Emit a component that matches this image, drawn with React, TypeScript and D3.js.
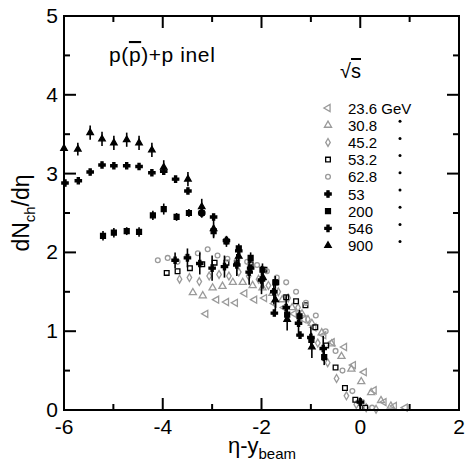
import React from "react";
import * as d3 from "d3";

const xDomain = [-6, 2];
const yDomain = [0, 5];
const xMajorTicks = [-6, -4, -2, 0, 2];
const yMajorTicks = [0, 1, 2, 3, 4, 5];

const legendLabels = ["23.6 GeV", "30.8", "45.2", "53.2", "62.8", "53", "200", "546", "900"];

const x236 = [-3.13, -2.91, -2.71, -2.53, -2.34, -2.14, -1.94, -1.74, -1.54, -1.34, -1.14, -0.94, -0.74, -0.57, -0.32, -0.14, 0.08, 0.28, 0.48, 0.69, 0.91];
const y236 = [1.22, 1.40, 1.37, 1.36, 1.48, 1.40, 1.42, 1.35, 1.30, 1.22, 1.15, 1.05, 0.95, 0.86, 0.80, 0.57, 0.48, 0.25, 0.10, 0.05, 0.03];

const x308 = [-3.39, -3.19, -2.99, -2.79, -2.58, -2.38, -2.18, -1.98, -1.78, -1.58, -1.38, -1.18, -0.98, -0.78, -0.58, -0.38, -0.18, 0.02, 0.22, 0.42, 0.62];
const y308 = [1.49, 1.45, 1.55, 1.57, 1.62, 1.62, 1.58, 1.55, 1.48, 1.40, 1.30, 1.22, 1.10, 0.98, 0.84, 0.68, 0.52, 0.36, 0.22, 0.12, 0.05];

const x452 = [-3.66, -3.46, -3.26, -3.06, -2.86, -2.66, -2.46, -2.26, -2.06, -1.86, -1.66, -1.46, -1.26, -1.06, -0.86, -0.66, -0.48, -0.28, -0.08, 0.12, 0.32];
const y452 = [1.66, 1.68, 1.63, 1.70, 1.72, 1.70, 1.75, 1.70, 1.66, 1.58, 1.50, 1.42, 1.30, 1.15, 0.85, 0.60, 0.40, 0.18, 0.07, 0.03, 0.01];

const x532 = [-3.92, -3.70, -3.45, -3.20, -2.95, -2.71, -2.50, -2.22, -1.94, -1.70, -1.50, -1.30, -1.11, -0.91, -0.69, -0.50, -0.31, -0.10, 0.10];
const y532 = [1.74, 1.76, 1.80, 1.85, 1.87, 1.87, 1.87, 1.85, 1.78, 1.62, 1.43, 1.38, 1.33, 1.05, 0.82, 0.54, 0.28, 0.13, 0.03];

const x628 = [-4.10, -3.90, -3.70, -3.50, -3.29, -3.09, -2.89, -2.69, -2.49, -2.29, -2.09, -1.89, -1.69, -1.50, -1.30, -1.10, -0.90, -0.70, -0.50, -0.36, -0.16, 0.04, 0.24];
const y628 = [1.90, 1.93, 1.88, 1.95, 1.99, 2.04, 1.96, 1.92, 1.90, 1.88, 1.84, 1.76, 1.68, 1.62, 1.50, 1.36, 1.20, 1.00, 0.75, 0.50, 0.24, 0.10, 0.03];

const x53 = [-3.75, -3.50, -3.25, -3.00, -2.75, -2.50, -2.25, -2.00, -1.75, -1.50, -1.25, -1.00, -0.75, 0.00];
const y53 = [1.90, 1.93, 1.86, 1.80, 1.82, 1.84, 1.75, 1.65, 1.50, 1.30, 1.10, 0.92, 0.78, 0.10];
const e53 = [0.10, 0.12, 0.14, 0.16, 0.14, 0.14, 0.16, 0.18, 0.16, 0.16, 0.14, 0.14, 0.16, 0.06];

const x200 = [-5.21, -4.99, -4.73, -4.48, -4.20, -3.98, -3.72, -3.47, -3.21, -2.97, -2.71, -2.46, -2.22, -1.98, -1.72, -1.48, -1.23, -0.99, -0.73];
const y200 = [2.21, 2.25, 2.27, 2.26, 2.47, 2.55, 2.45, 2.50, 2.50, 2.27, 2.14, 2.05, 1.93, 1.78, 1.62, 1.21, 1.19, 0.89, 0.67];
const e200 = [0.06, 0.06, 0.05, 0.06, 0.06, 0.07, 0.05, 0.05, 0.06, 0.07, 0.07, 0.06, 0.07, 0.08, 0.08, 0.08, 0.08, 0.09, 0.10];

const x546 = [-5.98, -5.71, -5.47, -5.23, -4.99, -4.73, -4.48, -4.22, -3.98, -3.74, -3.49, -3.21, -2.97, -2.71, -2.46, -2.22, -1.74, -1.22];
const y546 = [2.88, 2.91, 3.02, 3.11, 3.10, 3.10, 3.09, 3.01, 3.03, 2.93, 2.78, 2.50, 2.45, 2.15, 2.02, 1.80, 1.23, 0.95];

const x900 = [-6.00, -5.72, -5.47, -5.23, -4.99, -4.73, -4.48, -4.22, -3.98, -3.49, -3.21, -2.97, -2.46, -1.97, -1.72, -1.48, -0.98];
const y900 = [3.32, 3.31, 3.52, 3.44, 3.39, 3.43, 3.39, 3.30, 3.08, 2.93, 2.58, 2.30, 1.95, 1.68, 1.40, 1.15, 0.80];
const e900 = [0.08, 0.08, 0.09, 0.09, 0.09, 0.09, 0.09, 0.09, 0.09, 0.09, 0.10, 0.12, 0.12, 0.14, 0.14, 0.14, 0.14];

const GREY = "#9a9a9a";

type Sym = "ltri" | "tri" | "diamond" | "square" | "circle" | "cross";

interface Series {
  xs: number[];
  ys: number[];
  errs?: number[];
  sym: Sym;
  filled: boolean;
  color: string;
}

const seriesList: Series[] = [
  { xs: x236, ys: y236, sym: "ltri", filled: false, color: GREY },
  { xs: x308, ys: y308, sym: "tri", filled: false, color: GREY },
  { xs: x452, ys: y452, sym: "diamond", filled: false, color: GREY },
  { xs: x532, ys: y532, sym: "square", filled: false, color: "#000" },
  { xs: x628, ys: y628, sym: "circle", filled: false, color: GREY },
  { xs: x53, ys: y53, errs: e53, sym: "cross", filled: true, color: "#000" },
  { xs: x200, ys: y200, errs: e200, sym: "square", filled: true, color: "#000" },
  { xs: x546, ys: y546, sym: "cross", filled: true, color: "#000" },
  { xs: x900, ys: y900, errs: e900, sym: "tri", filled: true, color: "#000" },
];

const symPath = (s: Sym, filled: boolean): string => {
  const gen = d3.symbol();
  switch (s) {
    case "ltri":
    case "tri":
      return gen.type(d3.symbolTriangle).size(filled ? 18 : 22)() as string;
    case "diamond":
      return gen.type(d3.symbolDiamond).size(18)() as string;
    case "square":
      return gen.type(d3.symbolSquare).size(filled ? 24 : 22)() as string;
    case "circle":
      return gen.type(d3.symbolCircle).size(18)() as string;
    case "cross":
      return gen.type(d3.symbolCross).size(22)() as string;
  }
};

const Marker = ({ sym, filled, color, cx, cy }: { sym: Sym; filled: boolean; color: string; cx: number; cy: number }) => (
  <path
    d={symPath(sym, filled)}
    transform={`translate(${cx},${cy})${sym === "ltri" ? " rotate(-90)" : ""}`}
    fill={filled ? color : "#fff"}
    fillOpacity={filled ? 1 : 0}
    stroke={color}
    strokeWidth={1.3}
  />
);

export default function App() {
  const W = 466;
  const H = 462;
  const x = d3.scaleLinear().domain(xDomain).range([64, 459]);
  const y = d3.scaleLinear().domain(yDomain).range([410, 16]);
  const [x0, x1] = x.range();
  const [y0, y1] = y.range();
  const xMinor = d3.range(xDomain[0], xDomain[1] + 0.001, 1).filter((v) => !xMajorTicks.includes(v));
  const yMinor = d3.range(yDomain[0], yDomain[1] + 0.001, 0.5).filter((v) => !yMajorTicks.includes(v));
  const font = "'Liberation Sans', Arial, Helvetica, sans-serif";
  const MAJ = 12;
  const MIN = 6;

  return (
    <svg width={W} height={H} style={{ position: "absolute", left: 0, top: 0, background: "#fff" }} fontFamily={font}>
      <rect x={0} y={0} width={W} height={H} fill="#fff" />
      {/* data */}
      {seriesList.map((s, si) => (
        <g key={si}>
          {s.errs &&
            s.xs.map((xv, i) => (
              <line
                key={"e" + i}
                x1={x(xv)}
                x2={x(xv)}
                y1={y(s.ys[i] - s.errs![i])}
                y2={y(s.ys[i] + s.errs![i])}
                stroke={s.color}
                strokeWidth={1.6}
              />
            ))}
          {s.xs.map((xv, i) => (
            <Marker key={i} sym={s.sym} filled={s.filled} color={s.color} cx={x(xv)} cy={y(s.ys[i])} />
          ))}
        </g>
      ))}

      {/* frame */}
      <rect x={x0} y={y1} width={x1 - x0} height={y0 - y1} fill="none" stroke="#000" strokeWidth={2} />
      {xMajorTicks.map((v) => (
        <g key={"xm" + v}>
          <line x1={x(v)} x2={x(v)} y1={y0} y2={y0 - MAJ} stroke="#000" strokeWidth={2} />
          <line x1={x(v)} x2={x(v)} y1={y1} y2={y1 + MAJ} stroke="#000" strokeWidth={2} />
          <text x={x(v)} y={434} fontSize={21} textAnchor="middle">
            {v < 0 ? "-" + Math.abs(v) : String(v)}
          </text>
        </g>
      ))}
      {xMinor.map((v) => (
        <g key={"xn" + v}>
          <line x1={x(v)} x2={x(v)} y1={y0} y2={y0 - MIN} stroke="#000" strokeWidth={2} />
          <line x1={x(v)} x2={x(v)} y1={y1} y2={y1 + MIN} stroke="#000" strokeWidth={2} />
        </g>
      ))}
      {yMajorTicks.map((v) => (
        <g key={"ym" + v}>
          <line x1={x0} x2={x0 + MAJ} y1={y(v)} y2={y(v)} stroke="#000" strokeWidth={2} />
          <line x1={x1} x2={x1 - MAJ} y1={y(v)} y2={y(v)} stroke="#000" strokeWidth={2} />
          <text x={58} y={y(v) + 7} fontSize={21} textAnchor="end">
            {String(v)}
          </text>
        </g>
      ))}
      {yMinor.map((v) => (
        <g key={"yn" + v}>
          <line x1={x0} x2={x0 + MIN} y1={y(v)} y2={y(v)} stroke="#000" strokeWidth={2} />
          <line x1={x1} x2={x1 - MIN} y1={y(v)} y2={y(v)} stroke="#000" strokeWidth={2} />
        </g>
      ))}

      {/* axis titles */}
      <text x={262} y={453} fontSize={22} textAnchor="middle">
        η-y<tspan fontSize={15} dy={6}>beam</tspan>
      </text>
      <text transform={`translate(29,${(y0 + y1) / 2}) rotate(-90)`} fontSize={23} textAnchor="middle">
        dN<tspan fontSize={15} dy={6}>ch</tspan>
        <tspan dy={-6}>/dη</tspan>
      </text>

      {/* annotation */}
      <text x={109} y={62} fontSize={21} letterSpacing={0.6}>
        p(<tspan style={{ textDecoration: "overline" }}>p</tspan>)+p inel
      </text>
      <text x={340} y={78} fontSize={20}>
        √<tspan style={{ textDecoration: "overline" }}>s</tspan>
      </text>

      {/* legend */}
      {legendLabels.map((lab, i) => {
        const ly = 108 + i * 17.2;
        const s = seriesList[i];
        return (
          <g key={"lg" + i}>
            <Marker sym={s.sym} filled={s.filled} color={s.color} cx={328} cy={ly} />
            <text x={348} y={ly + 5.5} fontSize={15}>
              {lab}
            </text>
            {i > 0 && <circle cx={400} cy={ly - 4} r={1.5} fill="#000" />}
          </g>
        );
      })}
    </svg>
  );
}
